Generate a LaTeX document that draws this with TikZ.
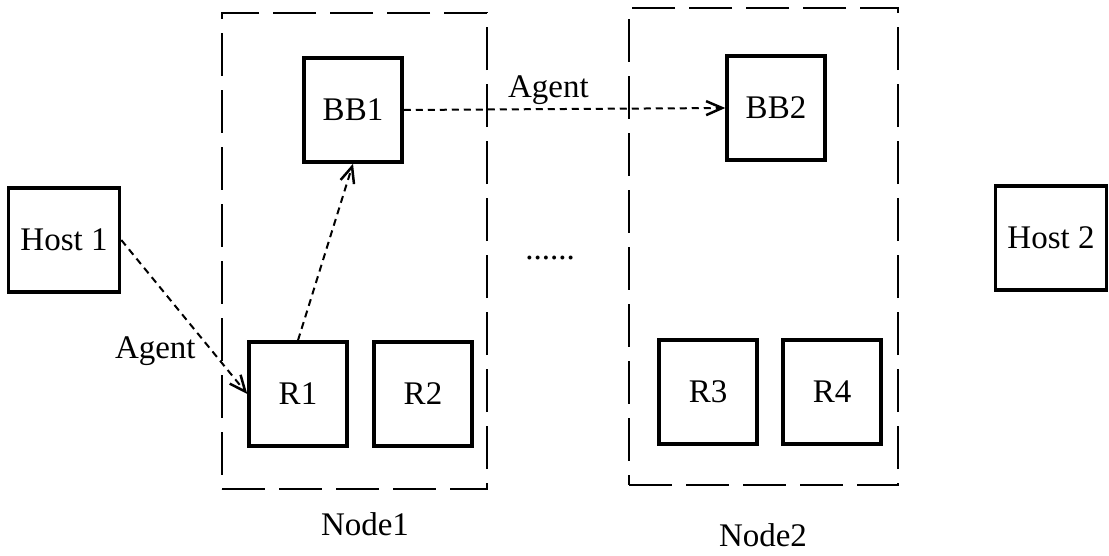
\documentclass[tikz,border=0pt]{standalone}
\usepackage{fontspec}
\setmainfont{Liberation Serif}
\usetikzlibrary{arrows.meta}
\begin{document}
\begin{tikzpicture}[x=1pt, y=-1pt,
	font=\fontsize{33}{40}\selectfont,
	box/.style={draw, line width=3.5pt, minimum width=98, minimum height=104, inner sep=12pt},
	group/.style={draw, line width=1.5pt, dash pattern=on 43pt off 14pt},
	agent/.style={line width=2pt, dash pattern=on 7pt off 5pt, -{Straight Barb[length=16pt, width=14pt, line width=2.5pt]}}]
	\useasboundingbox (0, 0) rectangle (1109, 555);
	\node[group, minimum width=265, minimum height=476] at (354.5, 251) (node1) {};
	\node[group, minimum width=269, minimum height=477] at (763.5, 246.5) (node2) {};
	\node at (365, 524) (label1) {Node1};
	\node at (763, 535) (label2) {Node2};
	\node[box] at (64, 240) (host1) {Host 1};
	\node[box] at (1051, 238) (host2) {Host 2};
	\node[box] at (353, 110) (bb1) {BB1};
	\node[box] at (776, 108) (bb2) {BB2};
	\node[box] at (298, 394) (r1) {R1};
	\node[box] at (423, 394) (r2) {R2};
	\node[box] at (708, 392) (r3) {R3};
	\node[box] at (832, 392) (r4) {R4};
	\node at (550, 258) (dots) {......};
	\draw[agent] (host1.east) to node[pos=0.72, left=12pt] {Agent} (r1.west);
	\draw[agent] (r1.north) to (bb1.south);
	\draw[agent] (bb1.east) to node[pos=0.45, above] {Agent} (bb2.west);
\end{tikzpicture}
\end{document}
